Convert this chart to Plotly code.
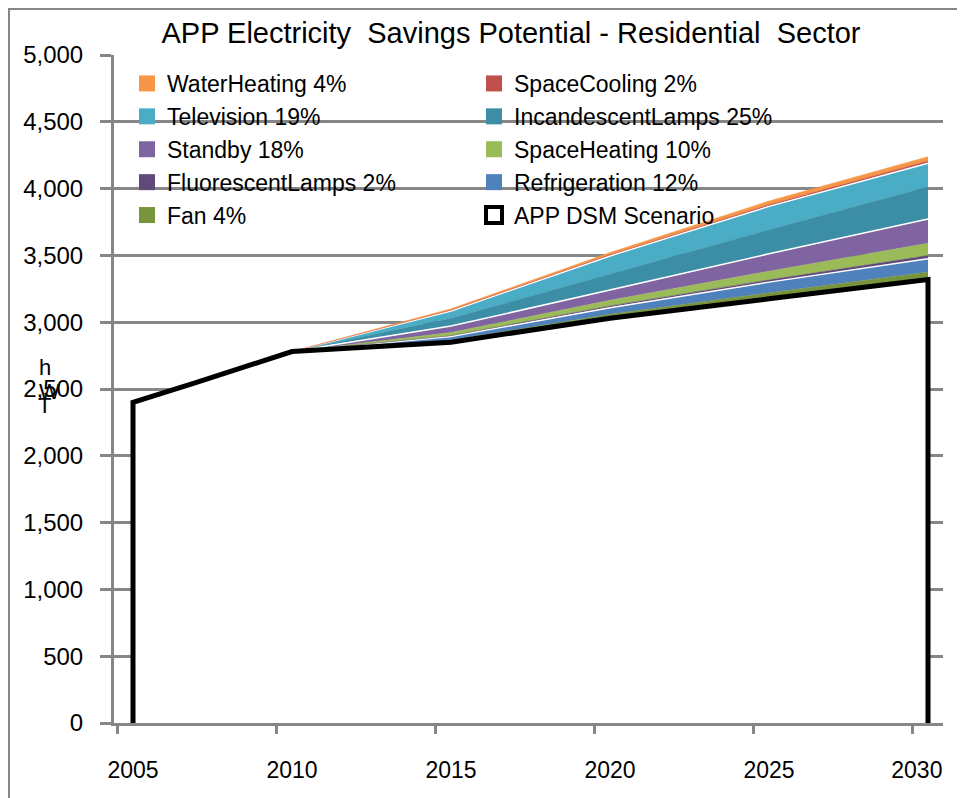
import plotly.graph_objects as go

# data (years on x)
years = [2005, 2007, 2010, 2015, 2020, 2025, 2030]
dsm_scenario = [2400, 2550, 2780, 2850, 3030, 3175, 3320]

fan = [0, 0, 0, 15, 30, 45, 55]
refrigeration = [0, 0, 0, 28, 49, 80, 100]
fluorescent_lamps = [0, 0, 0, 6, 13, 17, 24]
space_heating = [0, 0, 0, 24, 42, 65, 92]
standby = [0, 0, 0, 48, 75, 130, 182]
incandescent_lamps = [0, 0, 0, 58, 120, 180, 240]
television = [0, 0, 0, 55, 137, 175, 177]
space_cooling = [0, 0, 0, 6, 8, 12, 17]
water_heating = [0, 0, 0, 10, 17, 28, 32]

x_tick_years = [2005, 2010, 2015, 2020, 2025, 2030]
y_tick_values = [0, 500, 1000, 1500, 2000, 2500, 3000, 3500, 4000, 4500, 5000]

# bottom -> top stacking order
bands = [
    ("Fan 4%", fan, "#77933C", None),
    ("Refrigeration 12%", refrigeration, "#4F81BD", "white"),
    ("FluorescentLamps 2%", fluorescent_lamps, "#604A7B", None),
    ("SpaceHeating 10%", space_heating, "#9BBB59", None),
    ("Standby 18%", standby, "#8064A2", "white"),
    ("IncandescentLamps 25%", incandescent_lamps, "#3B8EA5", None),
    ("Television 19%", television, "#4BACC6", "white"),
    ("SpaceCooling 2%", space_cooling, "#C0504D", None),
    ("WaterHeating 4%", water_heating, "#F79646", None),
]

# page coordinates; the browser adds an 8px body margin
OFF = 8
PAGE_W, PAGE_H = 965, 798
W, H = PAGE_W - OFF, PAGE_H - OFF
PLOT_L, PLOT_R, PLOT_T, PLOT_B = 114, 943, 55, 723
PW, PH = PLOT_R - PLOT_L, PLOT_B - PLOT_T


def px(x):
    return (x - PLOT_L) / PW


def py(y):
    return (PLOT_B - y) / PH


FONT = "Liberation Sans, Arial, sans-serif"
GRID = "#868686"

fig = go.Figure()

# white base under the savings wedges
fig.add_trace(go.Scatter(
    x=years, y=dsm_scenario, stackgroup="s", mode="lines",
    line=dict(width=0, color="white"), fillcolor="white",
    showlegend=False, hoverinfo="skip",
))
for name, vals, color, edge in bands:
    fig.add_trace(go.Scatter(
        x=years, y=vals, stackgroup="s", mode="lines", name=name,
        line=dict(width=1.5 if edge else 0.5, color=edge or color),
        fillcolor=color, showlegend=False,
    ))

# DSM scenario outline (drops to the axis at both ends)
fig.add_trace(go.Scatter(
    x=[years[0]] + years + [years[-1]],
    y=[0] + dsm_scenario + [0],
    mode="lines", line=dict(color="black", width=5),
    showlegend=False, hoverinfo="skip",
))

# legend entries, in the reference's row order
legend_order = ["WaterHeating 4%", "SpaceCooling 2%", "Television 19%",
                "IncandescentLamps 25%", "Standby 18%", "SpaceHeating 10%",
                "FluorescentLamps 2%", "Refrigeration 12%", "Fan 4%"]
colors = {name: color for name, _, color, _ in bands}
for name in legend_order:
    fig.add_trace(go.Scatter(
        x=[None], y=[None], mode="markers", name=name,
        marker=dict(symbol="square", size=16, color=colors[name]),
    ))
fig.add_trace(go.Scatter(
    x=[None], y=[None], mode="markers", name="APP DSM Scenario",
    marker=dict(symbol="square", size=16, color="white",
                line=dict(color="black", width=4)),
))

# the last year label sits a bit inside the chart edge, as in Excel
label_pos = x_tick_years[:-1] + [x_tick_years[-1] - 0.35]

fig.update_layout(
    width=W, height=H,
    margin=dict(l=PLOT_L - OFF, r=PAGE_W - PLOT_R, t=PLOT_T - OFF,
                b=PAGE_H - PLOT_B),
    paper_bgcolor="white", plot_bgcolor="white",
    font=dict(family=FONT, color="black", size=24),
    title=dict(
        text="APP Electricity  Savings Potential - Residential  Sector",
        font=dict(size=29, family=FONT, color="black"),
        xref="paper", x=px(511), xanchor="center",
        yref="container", y=1 - (33 - OFF) / H, yanchor="middle",
    ),
    legend=dict(
        orientation="h", entrywidth=302, entrywidthmode="pixels",
        x=px(127), y=py(62), xanchor="left", yanchor="top",
        font=dict(size=23, family=FONT), bgcolor="rgba(0,0,0,0)",
        traceorder="normal",
    ),
    xaxis=dict(
        range=[2005 - 19 / 31.8, 2030 + 15 / 31.8],
        tickvals=label_pos, ticktext=[str(y) for y in x_tick_years],
        ticks="", showgrid=False, zeroline=False,
        showline=True, linecolor=GRID, linewidth=3,
        ticklabelstandoff=24, tickfont=dict(size=23),
        minor=dict(tickvals=[y - 0.5 for y in x_tick_years], ticks="outside",
                   ticklen=8, tickwidth=3, tickcolor=GRID, showgrid=False),
    ),
    yaxis=dict(
        range=[0, 5000], tickvals=y_tick_values, tickformat=",d",
        showgrid=True, gridcolor=GRID, gridwidth=3, zeroline=False,
        showline=True, linecolor=GRID, linewidth=3,
        ticks="outside", ticklen=11, tickwidth=3, tickcolor=GRID,
        ticklabelstandoff=12, tickfont=dict(size=24),
    ),
    showlegend=True,
)

# garbled rotated axis title as it appears in the reference
for ch, (cx, cy) in zip(["h", "W", "T"], [(45, 367), (49, 392), (44, 405)]):
    fig.add_annotation(text=ch, x=px(cx), y=py(cy), xref="paper", yref="paper",
                       showarrow=False, font=dict(size=22, family=FONT),
                       xanchor="center", yanchor="middle")

# chart-area border (cropped at right and bottom in the reference)
fig.add_shape(type="rect", xref="paper", yref="paper",
              x0=px(OFF + 1), y0=py(PAGE_H + 40), x1=px(PAGE_W + 40),
              y1=py(OFF + 1), line=dict(color=GRID, width=2), layer="below")

fig.write_html("out.html")
